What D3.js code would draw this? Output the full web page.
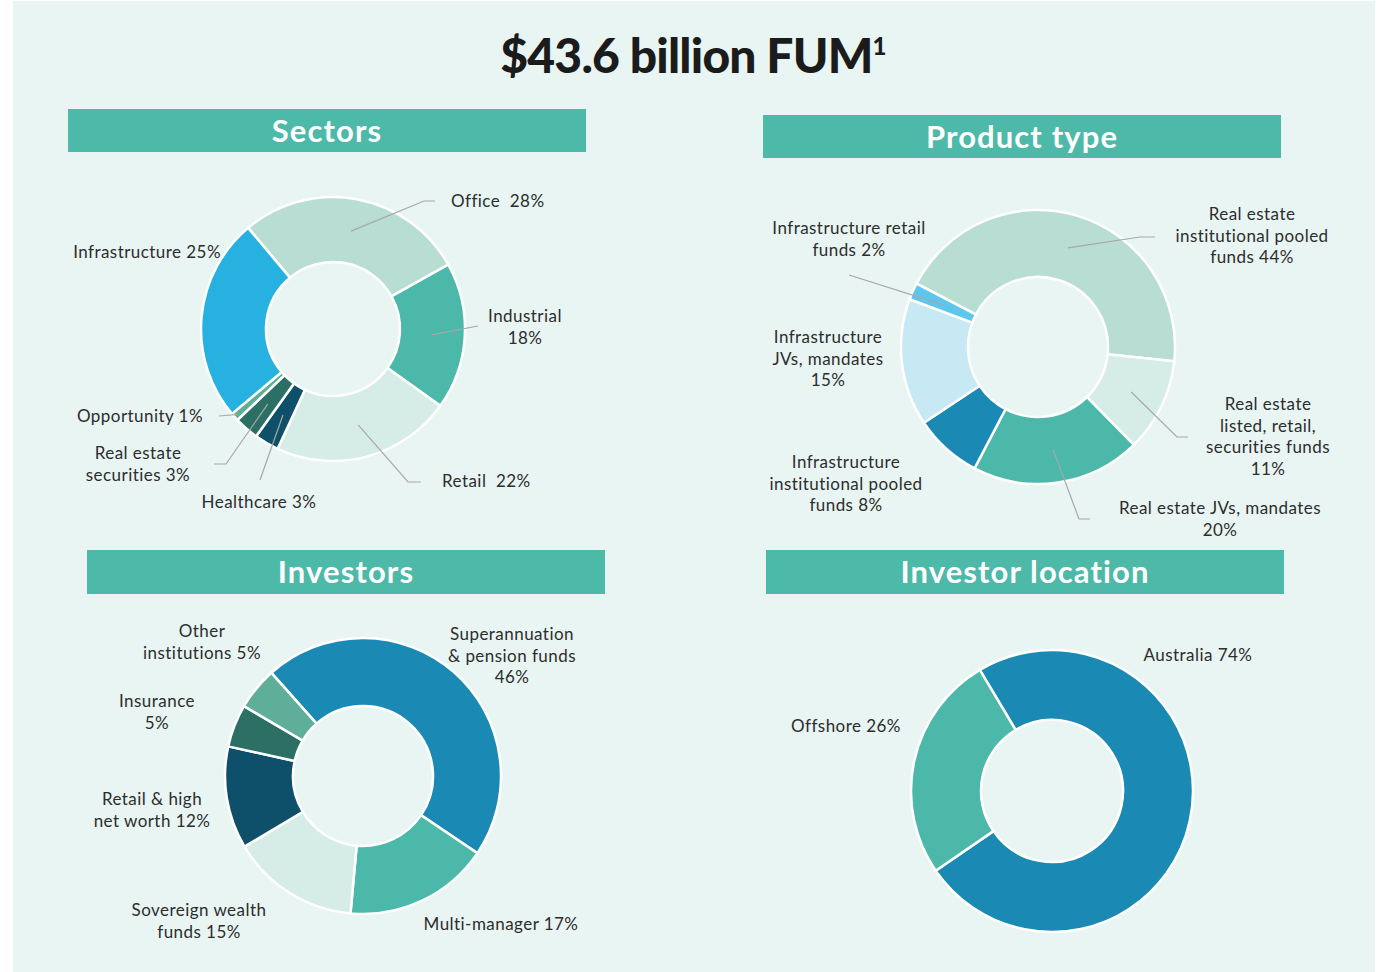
<!DOCTYPE html>
<html>
<head>
<meta charset="utf-8">
<script src="https://cdn.jsdelivr.net/npm/d3@7"></script>
<style>
  body { margin: 0; background: #fff; }
  text { font-family: Lato, 'Open Sans', sans-serif; }
</style>
</head>
<body>
<div id="container"></div>
<script>
// --- data ---
const sectorNames = ['Office', 'Industrial', 'Retail', 'Healthcare', 'Real estate securities', 'Opportunity', 'Infrastructure'];
const sectorValues = [28, 18, 22, 3, 3, 1, 25];
const sectorLabels = [['Office  28%'], ['Industrial', '18%'], ['Retail  22%'], ['Healthcare 3%'], ['Real estate', 'securities 3%'], ['Opportunity 1%'], ['Infrastructure 25%']];

const productNames = ['Real estate institutional pooled funds', 'Real estate listed, retail, securities funds', 'Real estate JVs, mandates', 'Infrastructure institutional pooled funds', 'Infrastructure JVs, mandates', 'Infrastructure retail funds'];
const productValues = [44, 11, 20, 8, 15, 2];
const productLabels = [['Real estate', 'institutional pooled', 'funds 44%'], ['Real estate', 'listed, retail,', 'securities funds', '11%'], ['Real estate JVs, mandates', '20%'], ['Infrastructure', 'institutional pooled', 'funds 8%'], ['Infrastructure', 'JVs, mandates', '15%'], ['Infrastructure retail', 'funds 2%']];

const investorNames = ['Superannuation & pension funds', 'Multi-manager', 'Sovereign wealth funds', 'Retail & high net worth', 'Insurance', 'Other institutions'];
const investorValues = [46, 17, 15, 12, 5, 5];
const investorLabels = [['Superannuation', '& pension funds', '46%'], ['Multi-manager 17%'], ['Sovereign wealth', 'funds 15%'], ['Retail & high', 'net worth 12%'], ['Insurance', '5%'], ['Other', 'institutions 5%']];

const locationNames = ['Australia', 'Offshore'];
const locationValues = [74, 26];
const locationLabels = [['Australia 74%'], ['Offshore 26%']];

// --- palette ---
const mint = '#b8ddd3', pale = '#d6ece7', teal = '#4bb8a9', navy = '#0e4f69',
      darkGreen = '#2b6f65', midGreen = '#5fae99', sky = '#27b1e1', ocean = '#1a89b3',
      iceBlue = '#c6e9f4', brightSky = '#5cc6ec';

const sectorColors = [mint, teal, pale, navy, darkGreen, midGreen, sky];
const productColors = [mint, pale, teal, ocean, iceBlue, brightSky];
const investorColors = [ocean, teal, pale, navy, darkGreen, midGreen];
const locationColors = [ocean, teal];

const W = 1386, H = 972;
const svg = d3.select('#container').append('svg')
  .attr('width', W)
  .attr('height', H);

svg.append('rect')
  .attr('x', 13).attr('y', 1)
  .attr('width', 1362).attr('height', H)
  .attr('fill', '#e8f5f3');

svg.append('text')
  .attr('x', 693).attr('y', 73)
  .attr('text-anchor', 'middle')
  .style('font-size', '48px')
  .style('font-weight', 900)
  .style('letter-spacing', '-0.8px')
  .attr('fill', '#1b1b1b')
  .text('$43.6 billion FUM')
  .append('tspan')
  .attr('dy', -18)
  .style('font-size', '24px')
  .text('1');

const deg = Math.PI / 180;

// each chart: header box, donut center/radii, start angle, label placements
const charts = [
  {
    title: 'Sectors', header: [68, 109, 518, 43],
    cx: 333, cy: 329, r0: 67, r1: 132, start: -40,
    names: sectorNames, values: sectorValues, labels: sectorLabels, colors: sectorColors,
    place: [
      { x: 451, y: 201, a: 'start', line: [[424, 201], [435, 201]] },
      { x: 525, y: 316, a: 'middle', line: [[478, 326]] },
      { x: 442, y: 481, a: 'start', line: [[408, 482], [421, 482]] },
      { x: 259, y: 502, a: 'middle', line: [[260, 480]] },
      { x: 138, y: 453, a: 'middle', line: [[226, 464], [214, 464]] },
      { x: 203, y: 416, a: 'end', line: [[219, 416]], lr: 128 },
      { x: 221, y: 252, a: 'end' }
    ]
  },
  {
    title: 'Product type', header: [763, 115, 518, 43],
    cx: 1038, cy: 347, r0: 70, r1: 137, start: -62.4,
    names: productNames, values: productValues, labels: productLabels, colors: productColors,
    place: [
      { x: 1252, y: 214, a: 'middle', line: [[1140, 237], [1155, 237]] },
      { x: 1268, y: 404, a: 'middle', line: [[1177, 437], [1188, 437]] },
      { x: 1220, y: 508, a: 'middle', line: [[1079, 519], [1090, 519]] },
      { x: 846, y: 462, a: 'middle' },
      { x: 828, y: 337, a: 'middle' },
      { x: 849, y: 228, a: 'middle', line: [[849, 275]] }
    ]
  },
  {
    title: 'Investors', header: [87, 550, 518, 44],
    cx: 363, cy: 776, r0: 70, r1: 138, start: -41.6,
    names: investorNames, values: investorValues, labels: investorLabels, colors: investorColors,
    place: [
      { x: 512, y: 634, a: 'middle' },
      { x: 501, y: 924, a: 'middle' },
      { x: 199, y: 910, a: 'middle' },
      { x: 152, y: 799, a: 'middle' },
      { x: 157, y: 701, a: 'middle' },
      { x: 202, y: 631, a: 'middle' }
    ]
  },
  {
    title: 'Investor location', header: [766, 550, 518, 44],
    cx: 1052, cy: 791, r0: 71, r1: 141, start: -30.8,
    names: locationNames, values: locationValues, labels: locationLabels, colors: locationColors,
    place: [
      { x: 1198, y: 655, a: 'middle' },
      { x: 846, y: 726, a: 'middle' }
    ]
  }
];

charts.forEach((c) => {
  const [hx, hy, hw, hh] = c.header;
  svg.append('rect')
    .attr('x', hx).attr('y', hy)
    .attr('width', hw).attr('height', hh)
    .attr('fill', '#4cb9a9');
  svg.append('text')
    .attr('x', hx + hw / 2).attr('y', hy + hh / 2 + 11)
    .attr('text-anchor', 'middle')
    .style('font-size', '31px')
    .style('font-weight', 700)
    .style('letter-spacing', '1.1px')
    .attr('fill', '#fff')
    .text(c.title);

  const pie = d3.pie().sort(null)
    .startAngle(c.start * deg)
    .endAngle(c.start * deg + 2 * Math.PI);
  const arc = d3.arc().innerRadius(c.r0).outerRadius(c.r1);
  const arcs = pie(c.values);

  const g = svg.append('g').attr('transform', `translate(${c.cx}, ${c.cy})`);
  g.selectAll('path')
    .data(arcs).enter()
    .append('path')
    .attr('d', arc)
    .attr('fill', (d, i) => c.colors[i])
    .attr('stroke', '#fff')
    .attr('stroke-width', 2.5);

  // leader lines
  arcs.forEach((d, i) => {
    const p = c.place[i];
    if (!p.line) return;
    const mid = (d.startAngle + d.endAngle) / 2;
    const rr = p.lr || (c.r0 + c.r1) / 2;
    const pts = [[c.cx + rr * Math.sin(mid), c.cy - rr * Math.cos(mid)]].concat(p.line);
    svg.append('path')
      .attr('d', d3.line()(pts))
      .attr('fill', 'none')
      .attr('stroke', '#a8a8a8')
      .attr('stroke-width', 1.2);
  });

  // labels
  c.labels.forEach((lines, i) => {
    const p = c.place[i];
    const t = svg.append('text')
      .attr('text-anchor', p.a)
      .style('font-size', '17px')
      .style('letter-spacing', '0.45px')
      .style('white-space', 'pre')
      .attr('fill', '#2d2d2d');
    lines.forEach((s, k) => {
      t.append('tspan')
        .attr('x', p.x)
        .attr('y', p.y + 6 + k * 21.7)
        .text(s);
    });
  });
});
</script>
</body>
</html>
